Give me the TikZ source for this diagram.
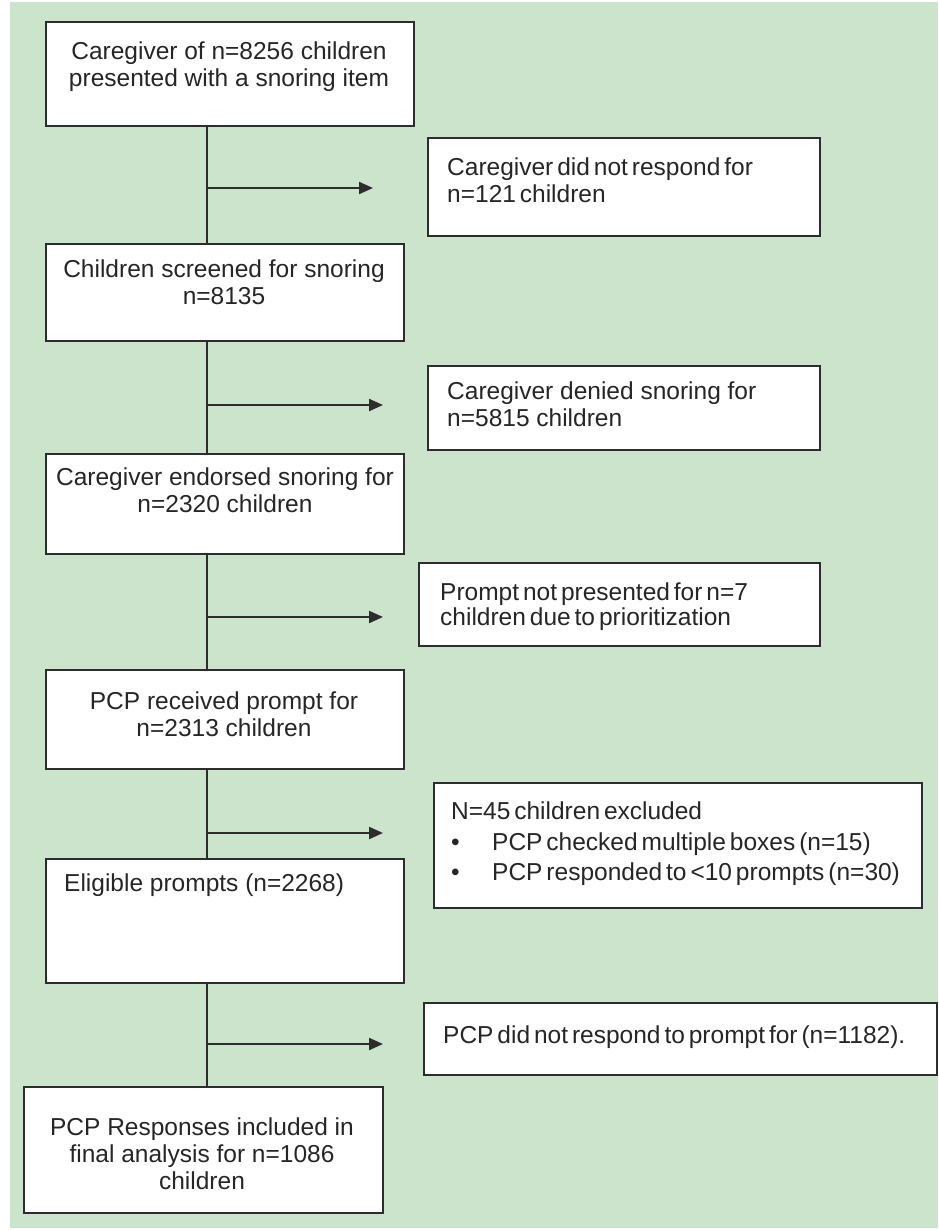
\documentclass[tikz,border=0pt]{standalone}
\usepackage{fontspec}
\setmainfont{Liberation Sans}
\usetikzlibrary{arrows.meta}
\definecolor{bggreen}{RGB}{204,228,204}
\definecolor{linegray}{RGB}{45,45,45}
\newcommand\tightsp{\spaceskip=0.16em plus 0.05em\relax}
\begin{document}
\begin{tikzpicture}[x=1pt,y=-1pt,
  box/.style={draw=linegray, line width=2pt, fill=white, inner sep=0pt, anchor=north west},
  txt/.style={inner sep=0pt, font=\fontsize{24.5}{27}\selectfont, text=black!85},
  tight/.style={execute at begin node=\tightsp},
  ctxt/.style={txt, align=center, anchor=north},
  ltxt/.style={txt, align=left, anchor=north west},
  conn/.style={draw=linegray, line width=2.2pt},
  arr/.style={conn, -{Triangle[length=14pt,width=12pt]}}]
\useasboundingbox (0,0) rectangle (938,1230);
\fill[white] (0,0) rectangle (938,1230);
\fill[bggreen] (10,2) rectangle (938,1228);

% left column boxes
\node[box, minimum width=368pt, minimum height=104pt] (b1) at (45,21) {};
\node[box, minimum width=358pt, minimum height=97pt]  (b2) at (45,243) {};
\node[box, minimum width=358pt, minimum height=100pt] (b3) at (45,453) {};
\node[box, minimum width=358pt, minimum height=99pt]  (b4) at (45,669) {};
\node[box, minimum width=358pt, minimum height=124pt] (b5) at (45,858) {};
\node[box, minimum width=359pt, minimum height=126pt] (b6) at (23,1086) {};

% right column boxes
\node[box, minimum width=392pt, minimum height=98pt]  (r1) at (427,137) {};
\node[box, minimum width=392pt, minimum height=84pt]  (r2) at (427,365) {};
\node[box, minimum width=401pt, minimum height=83pt]  (r3) at (418,562) {};
\node[box, minimum width=488pt, minimum height=125pt] (r4) at (433,782) {};
\node[box, minimum width=513pt, minimum height=72pt]  (r5) at (423,1002) {};

% texts
\node[ctxt] (t1) at (229,42) {Caregiver of n=8256 children\\presented with a snoring item};
\node[ctxt] (t2) at (224,260) {Children screened for snoring\\n=8135};
\node[ctxt] (t3) at (225,468) {Caregiver endorsed snoring for\\n=2320 children};
\node[ctxt] (t4) at (224,692) {PCP received prompt for\\n=2313 children};
\node[ltxt] (t5) at (64,874) {Eligible prompts (n=2268)};
\node[ctxt] (t6) at (202,1118) {PCP Responses included in\\final analysis for n=1086\\children};

\node[ltxt, tight] (s1) at (447,158) {Caregiver did not respond for\\n=121 children};
\node[ltxt] (s2) at (447,382) {Caregiver denied snoring for\\n=5815 children};
\node[ltxt, tight, font=\fontsize{24.5}{24.5}\selectfont] (s3) at (440,583) {Prompt not presented for n=7\\children due to prioritization};
\node[ltxt, tight, font=\fontsize{24.5}{30.5}\selectfont] (s4) at (451,802) {N=45 children excluded\\
  \makebox[41pt][l]{\textbullet}PCP checked multiple boxes (n=15)\\
  \makebox[41pt][l]{\textbullet}PCP responded to <10 prompts (n=30)};
\node[ltxt, tight] (s5) at (443,1026) {PCP did not respond to prompt for (n=1182).};

% trunk
\coordinate (v) at (207,0);
\draw[conn] (b1.south -| v) -- (b2.north -| v);
\draw[conn] (b2.south -| v) -- (b3.north -| v);
\draw[conn] (b3.south -| v) -- (b4.north -| v);
\draw[conn] (b4.south -| v) -- (b5.north -| v);
\draw[conn] (b5.south -| v) -- (b6.north -| v);

% side arrows
\coordinate (j1) at (207,188);  \coordinate (e1) at (373,188);
\coordinate (j2) at (207,405);  \coordinate (e2) at (383,405);
\coordinate (j3) at (207,617);  \coordinate (e3) at (383,617);
\coordinate (j4) at (207,833);  \coordinate (e4) at (383,833);
\coordinate (j5) at (207,1044); \coordinate (e5) at (383,1044);
\draw[arr] (j1) -- (e1);
\draw[arr] (j2) -- (e2);
\draw[arr] (j3) -- (e3);
\draw[arr] (j4) -- (e4);
\draw[arr] (j5) -- (e5);
\end{tikzpicture}
\end{document}
